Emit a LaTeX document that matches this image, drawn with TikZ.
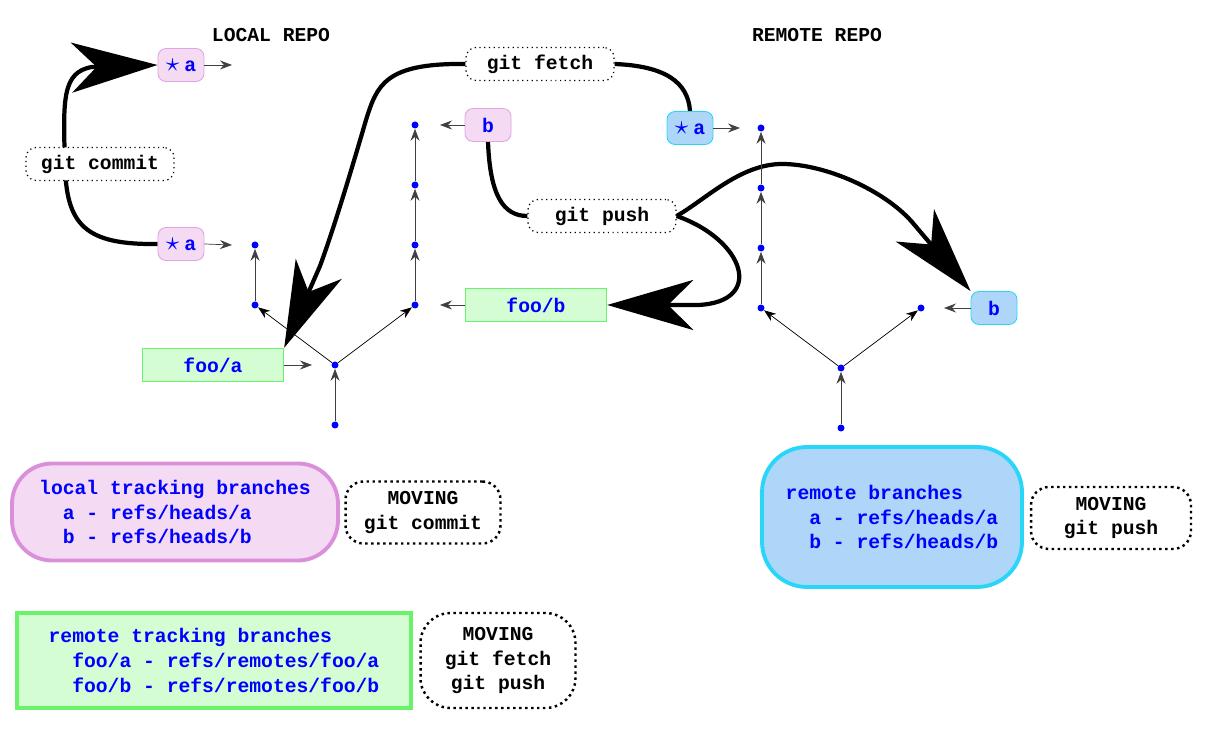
\documentclass[tikz,border=0pt]{standalone}
\usepackage{fontspec}
\setmonofont{Liberation Mono}
\usetikzlibrary{arrows.meta}
\pgfdeclarelayer{bg}
\pgfsetlayers{bg,main}
\definecolor{pinkfill}{HTML}{F5DAF3}
\definecolor{pinkdraw}{HTML}{DA8FDA}
\definecolor{bluefill}{HTML}{AED6F8}
\definecolor{bluedraw}{HTML}{2AD6F8}
\definecolor{greenfill}{HTML}{D4FDD4}
\definecolor{greendraw}{HTML}{6AF26A}
\newcommand{\bstar}{\scalebox{1.4}{$\star$}}
\begin{document}
\begin{tikzpicture}[x=0.02cm,y=-0.02cm,
  every node/.style={font=\ttfamily\bfseries\fontsize{11.2}{14.2}\selectfont},
  lbr/.style={draw=pinkdraw!80, fill=pinkfill, rounded corners=0.16cm, minimum width=0.92cm, minimum height=0.66cm, inner sep=0pt, text=blue, line width=0.5pt},
  rbr/.style={draw=bluedraw, fill=bluefill, rounded corners=0.16cm, minimum width=0.92cm, minimum height=0.66cm, inner sep=0pt, text=blue, line width=0.5pt},
  rtb/.style={draw=greendraw, fill=greenfill, minimum width=2.82cm, minimum height=0.66cm, inner sep=0pt, text=blue, line width=0.8pt},
  cmd/.style={draw, dotted, fill=white, rounded corners=0.2cm, minimum width=2.96cm, minimum height=0.66cm, inner sep=0pt, line width=0.7pt},
  cdot/.style={circle, fill=blue, inner sep=0pt, minimum size=0.14cm},
  tiny/.style={-{Stealth[length=0.24cm,width=0.18cm,inset=0.08cm]}, line width=0.4pt, draw=black!75},
  big/.style={line width=2.4pt, -{Stealth[length=1.72cm,width=1cm,inset=0.5cm]}},
  bigline/.style={line width=2.4pt},
  legend/.style={line width=2.2pt, text=blue, align=left, inner sep=0pt},
  moving/.style={draw, dotted, line width=1.4pt, align=center, inner sep=0pt},
  title/.style={}]
\useasboundingbox (0,0) rectangle (1209,742);

% titles
\node[title] (lrepo) at (271,35) {LOCAL REPO};
\node[title] (rrepo) at (817,35) {REMOTE REPO};

% local commit graph
\node[cdot] (l1) at (335,425) {};
\node[cdot] (l2) at (335,365) {};
\node[cdot] (l3) at (255,305) {};
\node[cdot] (l4) at (255,245) {};
\node[cdot] (l5) at (415,305) {};
\node[cdot] (l6) at (415,245) {};
\node[cdot] (l7) at (415,185) {};
\node[cdot] (l8) at (415,125) {};
\draw[tiny] (l1) -- (l2);
\draw[tiny, draw=black] (l2) -- (l3);
\draw[tiny] (l3) -- (l4);
\draw[tiny, draw=black] (l2) -- (l5);
\draw[tiny] (l5) -- (l6);
\draw[tiny] (l6) -- (l7);
\draw[tiny] (l7) -- (l8);

% remote commit graph
\node[cdot] (r1) at (841,428) {};
\node[cdot] (r2) at (841,368) {};
\node[cdot] (r3) at (761,308) {};
\node[cdot] (r4) at (761,248) {};
\node[cdot] (r5) at (761,188) {};
\node[cdot] (r6) at (761,128) {};
\node[cdot] (r7) at (921,308) {};
\draw[tiny] (r1) -- (r2);
\draw[tiny, draw=black] (r2) -- (r3);
\draw[tiny] (r3) -- (r4);
\draw[tiny] (r4) -- (r5);
\draw[tiny] (r5) -- (r6);
\draw[tiny, draw=black] (r2) -- (r7);

% branch nodes
\node[lbr] (a2) at (181,65) {\bstar\hspace{0.25em}a};
\node[lbr] (a1) at (181,244) {\bstar\hspace{0.25em}a};
\node[lbr] (b) at (488,125) {b};
\node[rtb] (fooa) at (213,365) {foo/a};
\node[rtb] (foob) at (536,305) {foo/b};
\node[rbr] (ra) at (690,128) {\bstar\hspace{0.25em}a};
\node[rbr] (rb) at (994,308) {b};

\coordinate (ca2) at (232,65);
\coordinate (ca1) at (232,245);
\coordinate (cb) at (440,125);
\coordinate (cfa) at (312,365);
\coordinate (cfb) at (440,305);
\coordinate (cra) at (740,128);
\coordinate (crb) at (944,308);
\draw[tiny] (a2.east) -- (ca2);
\draw[tiny] (a1.east) -- (ca1);
\draw[tiny] (b.west) -- (cb);
\draw[tiny] (fooa.east) -- (cfa);
\draw[tiny] (foob.west) -- (cfb);
\draw[tiny] (ra.east) -- (cra);
\draw[tiny] (rb.west) -- (crb);

% command nodes
\node[cmd] (commit) at (100,164) {git commit};
\node[cmd] (fetch) at (540,64) {git fetch};
\node[cmd] (push) at (602,216) {git push};

% big arrows
\begin{pgfonlayer}{bg}
\draw[big] (a1.west) .. controls (85,245) and (66,225) .. (65,164)
  .. controls (63,100) and (62,72) .. (92,67) -- (a2.west);
\draw[bigline] (ra.north) .. controls (688,82) and (665,66) .. (fetch.east);
\draw[big] (fetch.west) .. controls (385,63) and (377,85) .. (366,120)
  .. controls (352,168) and (334,228) .. (320,266) -- (fooa.north east);
\draw[bigline] (b.south) .. controls (490,195) and (503,216) .. (push.west);
\draw[big] (push.east) .. controls (705,200) and (740,164) .. (782,164)
  .. controls (825,164) and (884,190) .. (912,222) -- (rb.north west);
\draw[big] (push.east) .. controls (745,240) and (765,302) .. (698,305) -- (foob.east);
\end{pgfonlayer}

% legends
\node[legend, draw=pinkdraw, fill=pinkfill, rounded corners=0.8cm, minimum width=6.52cm, minimum height=1.94cm] (ltb) at (175,512)
  {local tracking branches\\\phantom{xx}a - refs/heads/a\\\phantom{xx}b - refs/heads/b};
\node[moving, rounded corners=0.36cm, minimum width=3.1cm, minimum height=1.24cm] (m1) at (423,512.5)
  {MOVING\\git commit};
\node[legend, draw=greendraw, fill=greenfill, minimum width=7.88cm, minimum height=1.9cm] (rtbl) at (214,660.5)
  {remote tracking branches\\\phantom{xx}foo/a - refs/remotes/foo/a\\\phantom{xx}foo/b - refs/remotes/foo/b};
\node[moving, rounded corners=0.6cm, minimum width=3.1cm, minimum height=1.9cm] (m2) at (498,660.5)
  {MOVING\\git fetch\\git push};
\node[legend, draw=bluedraw, fill=bluefill, rounded corners=0.9cm, minimum width=5.2cm, minimum height=2.8cm] (rbl) at (892,517)
  {remote branches\\\phantom{xx}a - refs/heads/a\\\phantom{xx}b - refs/heads/b};
\node[moving, rounded corners=0.36cm, minimum width=3.2cm, minimum height=1.24cm] (m3) at (1111,518)
  {MOVING\\git push};
\end{tikzpicture}
\end{document}
